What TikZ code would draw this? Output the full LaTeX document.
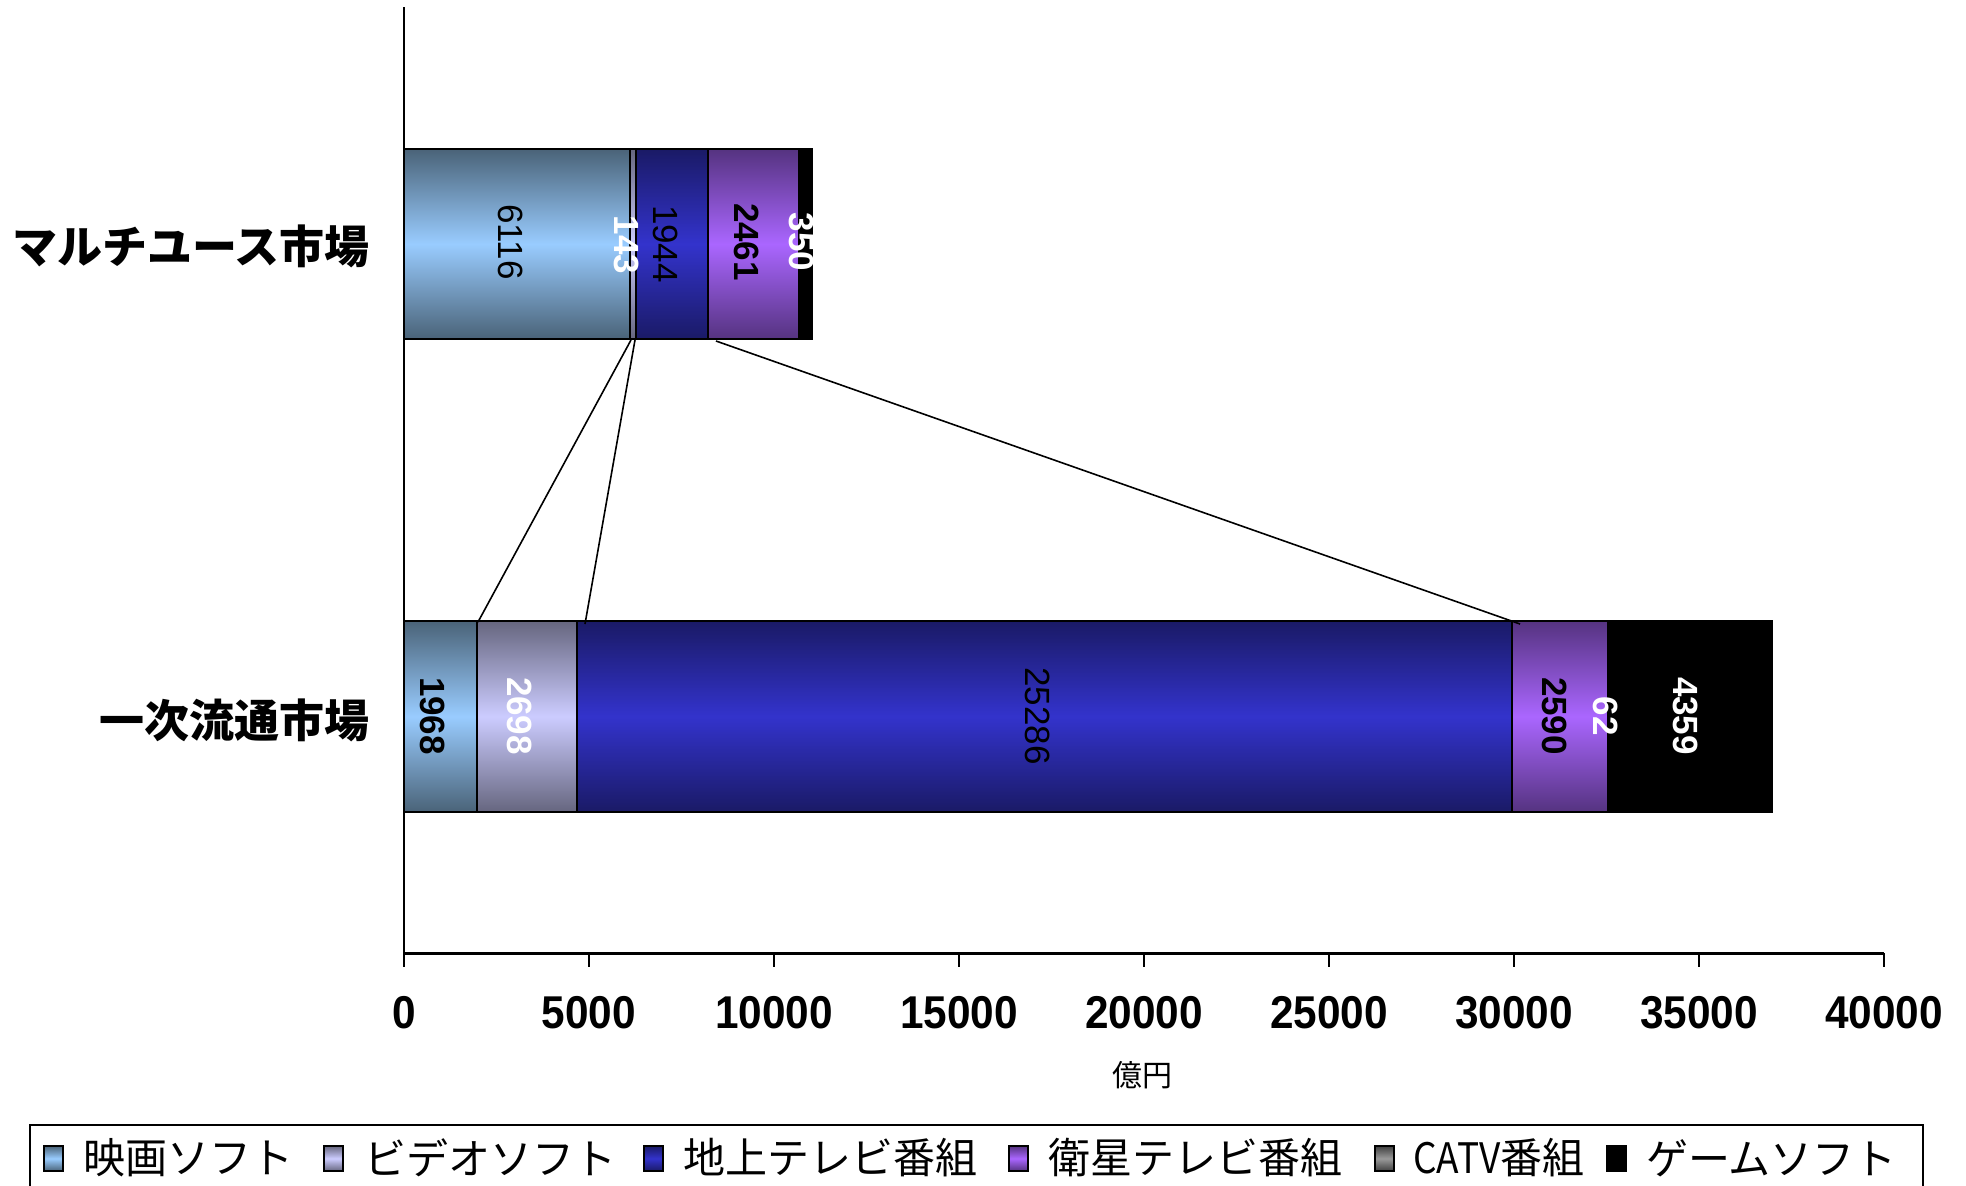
\documentclass[tikz,border=0pt]{standalone}
\usepackage{fontspec}
\setmainfont{Liberation Sans}
\newfontfamily\jp{Noto Sans CJK JP}
\newfontfamily\tk{Liberation Sans}[FakeStretch=0.92]
\definecolor{movD}{HTML}{4A6378}
\definecolor{movL}{HTML}{99CCFF}
\definecolor{vidD}{HTML}{66667F}
\definecolor{vidL}{HTML}{CCCCFF}
\definecolor{terD}{HTML}{1A1A66}
\definecolor{terL}{HTML}{3333CC}
\definecolor{satD}{HTML}{553380}
\definecolor{satL}{HTML}{AA66FF}
\definecolor{catD}{HTML}{404040}
\definecolor{catL}{HTML}{9A9A9A}
\begin{document}
\begin{tikzpicture}[x=1pt,y=-1pt,
  seg/.style={draw=black, line width=2pt},
  mov/.style={seg, top color=movD, bottom color=movD, middle color=movL},
  vid/.style={seg, top color=vidD, bottom color=vidD, middle color=vidL},
  ter/.style={seg, top color=terD, bottom color=terD, middle color=terL},
  sat/.style={seg, top color=satD, bottom color=satD, middle color=satL},
  catv/.style={seg, top color=catD, bottom color=catD, middle color=catL},
  game/.style={seg, fill=black},
  val/.style={font=\fontsize{35}{40}\selectfont, rotate=-90, inner sep=0pt},
  valb/.style={val, font=\fontsize{35}{40}\selectfont\bfseries},
  tick/.style={font=\tk\fontsize{46}{50}\selectfont\bfseries, inner sep=0pt},
  catlab/.style={font=\jp\fontsize{45}{50}\selectfont\bfseries, inner sep=0pt, anchor=east},
  legsq/.style={draw=black, line width=1.5pt},
  legtxt/.style={font=\jp\fontsize{42}{48}\selectfont, inner sep=0pt, anchor=west},
  sline/.style={draw=black, line width=1.6pt}
]
\useasboundingbox (0,0) rectangle (1966,1186);
\clip (0,0) rectangle (1966,1186);

% axes
\draw[line width=2pt] (404,7) -- (404,967);
\draw[line width=3pt] (404,953) -- (1884,953);
\foreach \k in {5,10,...,40} {
  \draw[line width=2pt] ({404+37*\k},953) -- ({404+37*\k},967);
}
\foreach \k/\t in {0/0,5/5000,10/10000,15/15000,20/20000,25/25000,30/30000,35/35000,40/40000} {
  \node[tick] (t\k) at ({404+37*\k},1013) {\t};
}
\node[font=\jp\fontsize{30}{34}\selectfont, inner sep=0pt] (unit) at (1142,1075) {億円};

% category labels
\node[catlab] (catA) at (370,246) {マルチユース市場};
\node[catlab] (catB) at (370,720) {一次流通市場};

% top bar (multi-use)
\path[mov]  (404,149) rectangle (630.29,339);
\path[vid]  (630.29,149) rectangle (635.58,339);
\path[ter]  (635.58,149) rectangle (707.51,339);
\path[sat]  (707.51,149) rectangle (798.57,339);
\path[game] (798.57,149) rectangle (811.52,339);

\node[val]  (a1) at (511,242) {6116};
\node[valb, text=white] (a2) at (627,245) {143};
\node[val]  (a3) at (665.5,244) {1944};
\node[valb] (a4) at (747,242) {2461};
\node[valb, text=white] (a5) at (802,242) {350};

% bottom bar (primary)
\path[mov]  (404,621) rectangle (476.82,812);
\path[vid]  (476.82,621) rectangle (576.64,812);
\path[ter]  (576.64,621) rectangle (1512.22,812);
\path[sat]  (1512.22,621) rectangle (1608.05,812);
\path[catv] (1608.05,621) rectangle (1610.35,812);
\path[game] (1610.35,621) rectangle (1771.63,812);

\node[valb] (b1) at (433,716) {1968};
\node[valb, text=white] (b2) at (519.7,716) {2698};
\node[val]  (b3) at (1037.4,716) {25286};
\node[valb] (b4) at (1555,716) {2590};
\node[valb, text=white] (b5) at (1606,716) {62};
\node[valb, text=white] (b6) at (1686,716) {4359};

% series lines
\coordinate (s1a) at (631,340);
\coordinate (s1b) at (478,622);
\coordinate (s2a) at (635,340);
\coordinate (s2b) at (585,624);
\coordinate (s3a) at (716,341);
\coordinate (s3b) at (1520,624);
\draw[sline] (s1a) -- (s1b);
\draw[sline] (s2a) -- (s2b);
\draw[sline] (s3a) -- (s3b);

% legend
\draw[line width=2pt] (30,1125) rectangle (1923,1220);
\path[legsq, top color=movD, bottom color=movD, middle color=movL] (44,1146) rectangle (63,1171);
\node[legtxt] (g1) at (83,1158) {映画ソフト};
\path[legsq, top color=vidD, bottom color=vidD, middle color=vidL] (324,1146) rectangle (343,1171);
\node[legtxt] (g2) at (364,1158) {ビデオソフト};
\path[legsq, top color=terD, bottom color=terD, middle color=terL] (644,1146) rectangle (663,1171);
\node[legtxt] (g3) at (683,1158) {地上テレビ番組};
\path[legsq, top color=satD, bottom color=satD, middle color=satL] (1009,1146) rectangle (1028,1171);
\node[legtxt] (g4) at (1048,1158) {衛星テレビ番組};
\path[legsq, top color=catD, bottom color=catD, middle color=catL] (1375,1146) rectangle (1394,1171);
\node[legtxt] (g5) at (1413,1158) {\scalebox{0.88}[1]{CATV}番組};
\path[legsq, fill=black] (1607,1146) rectangle (1626,1171);
\node[legtxt] (g6) at (1646,1158) {ゲームソフト};
\end{tikzpicture}
\end{document}
